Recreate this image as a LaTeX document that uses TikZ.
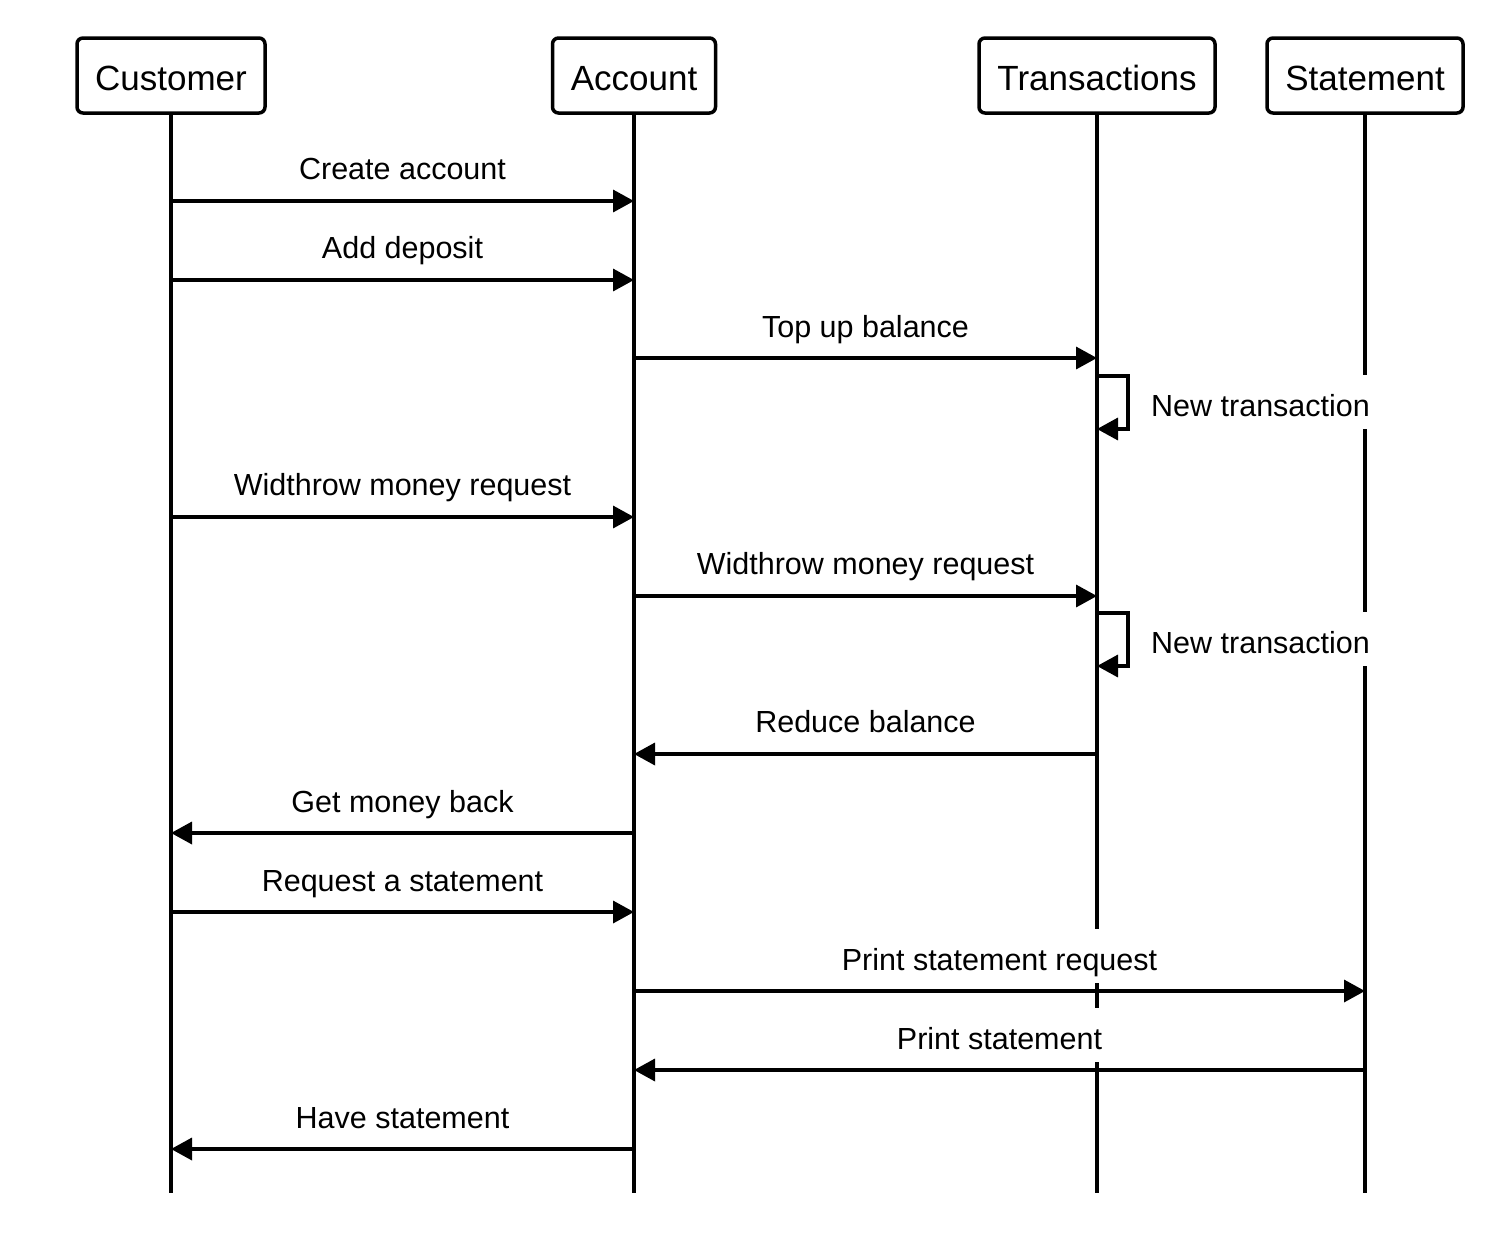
\documentclass[tikz,border=0pt]{standalone}
\usepackage{fontspec}
\setmainfont{Liberation Sans}
\usetikzlibrary{arrows.meta}
\begin{document}
\begin{tikzpicture}[x=1pt,y=-1pt,
  lane/.style={line width=3.5pt},
  party/.style={draw,line width=3.5pt,rounded corners=6pt,minimum height=75pt,inner sep=0pt,
    text height=29pt,text depth=0pt,font=\fontsize{35pt}{40pt}\selectfont,fill=white},
  msg/.style={line width=3.5pt,-{Triangle[length=21pt,width=22pt]}},
  lbl/.style={fill=white,inner xsep=4pt,inner ysep=6pt,text height=35pt,text depth=7pt,
    anchor=base,font=\fontsize{30.5pt}{36pt}\selectfont}]
\useasboundingbox (0,0) rectangle (1504,1240);
\fill[white] (0,0) rectangle (1504,1240);
% lifelines
\coordinate (cb) at (171,1193);
\coordinate (ab) at (634,1193);
\coordinate (tb) at (1097,1193);
\coordinate (sb) at (1365,1193);
\node[party,minimum width=188pt] (cust) at (171,75.5) {Customer};
\node[party,minimum width=163pt] (acc) at (634,75.5) {Account};
\node[party,minimum width=236pt] (tra) at (1097,75.5) {Transactions};
\node[party,minimum width=196pt] (sta) at (1365,75.5) {Statement};
\draw[lane] (cust.south) -- (cb);
\draw[lane] (acc.south) -- (ab);
\draw[lane] (tra.south) -- (tb);
\draw[lane] (sta.south) -- (sb);
% endpoints
\foreach \n/\y in {1/201,2/280,3/358,5/517,6/596,8/754,9/833,10/912,11/991,12/1070,13/1149}{
  \coordinate (c\n) at (171,\y);
  \coordinate (a\n) at (634,\y);
  \coordinate (t\n) at (1097,\y);
  \coordinate (s\n) at (1365,\y);
}
% labels
\node[lbl] (l1) at (402.5,179) {Create account};
\node[lbl] (l2) at (402.5,258) {Add deposit};
\node[lbl] (l3) at (865.5,337) {Top up balance};
\node[lbl,anchor=base west] (l4) at (1147,416) {New transaction};
\node[lbl] (l5) at (402.5,495) {Widthrow money request};
\node[lbl] (l6) at (865.5,574) {Widthrow money request};
\node[lbl,anchor=base west] (l7) at (1147,653) {New transaction};
\node[lbl] (l8) at (865.5,732) {Reduce balance};
\node[lbl] (l9) at (402.5,812) {Get money back};
\node[lbl] (l10) at (402.5,891) {Request a statement};
\node[lbl] (l11) at (999.5,970) {Print statement request};
\node[lbl] (l12) at (999.5,1049) {Print statement};
\node[lbl] (l13) at (402.5,1128) {Have statement};
% messages
\draw[msg] (c1) -- (a1);
\draw[msg] (c2) -- (a2);
\draw[msg] (a3) -- (t3);
\coordinate (n1a) at (1097,376);
\coordinate (n1b) at (1097,429);
\draw[msg] (n1a) -- ++(31,0) |- (n1b);
\draw[msg] (c5) -- (a5);
\draw[msg] (a6) -- (t6);
\coordinate (n2a) at (1097,613);
\coordinate (n2b) at (1097,666);
\draw[msg] (n2a) -- ++(31,0) |- (n2b);
\draw[msg] (t8) -- (a8);
\draw[msg] (a9) -- (c9);
\draw[msg] (c10) -- (a10);
\draw[msg] (a11) -- (s11);
\draw[msg] (s12) -- (a12);
\draw[msg] (a13) -- (c13);
\end{tikzpicture}
\end{document}
